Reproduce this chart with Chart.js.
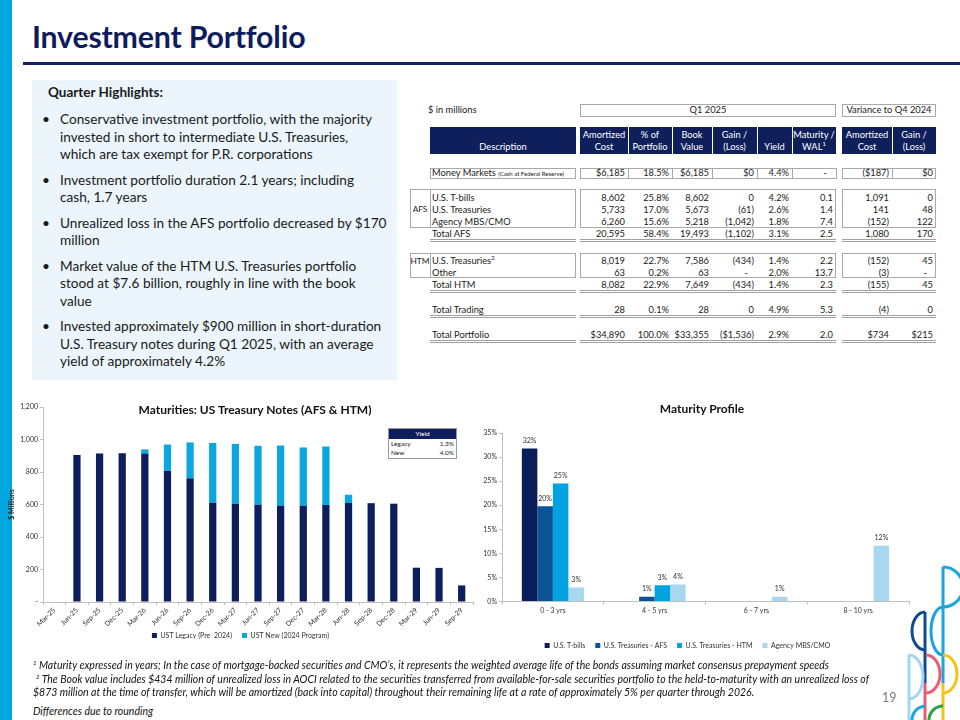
<!DOCTYPE html>
<html lang="en">
<head>
<meta charset="UTF-8">
<title>Investment Portfolio</title>
<script src="https://cdn.jsdelivr.net/npm/chart.js"></script>
<style>
    html, body { margin: 0; padding: 0; }
    body { width: 960px; height: 720px; overflow: hidden; background: #fff; font-family: 'Lato', sans-serif; color: #1a1a1a; position: relative; }
    .abs { position: absolute; }
    .strip { left: 0; top: 0; width: 12px; height: 720px; background: #00a6e0; }
    .title { left: 32px; top: 18px; font-size: 30.3px; font-weight: 700; color: #0f1c5c; white-space: nowrap; letter-spacing: -0.2px; }
    .rule { left: 23px; top: 62px; width: 937px; height: 3px; background: #14235f; }
    .highlights { left: 32px; top: 80px; width: 365px; height: 300px; background: #ebf5fb; }
    .highlights h4 { position: absolute; left: 16px; top: 3px; margin: 0; font-size: 13.5px; line-height: 18px; font-weight: 700; }
    .highlights ul { position: absolute; left: 0; top: 31px; margin: 0; padding: 0; list-style: none; }
    .highlights li { position: relative; padding-left: 28px; font-size: 13.65px; line-height: 17.5px; margin-bottom: 8px; white-space: nowrap; }
    .highlights li::before { content: '\2022'; position: absolute; left: 10px; top: 0; }
    .cell { position: absolute; box-sizing: border-box; font-size: 9.3px; white-space: nowrap; }
    .bx { position: absolute; box-sizing: border-box; border: 1px solid #a9a9a9; }
    .navy { position: absolute; box-sizing: border-box; background: #0f1f5c; }
    .hd { position: absolute; box-sizing: border-box; color: #fff; font-size: 9.3px; line-height: 12px; text-align: center; }
    sup { line-height: 0; font-size: 6px; }
    .uline { position: absolute; box-sizing: border-box; height: 3px; border-top: 1px solid #a0a0a0; border-bottom: 1px solid #a0a0a0; }
    .chartbox { position: absolute; }
    .ctitle { position: absolute; font-size: 12px; font-weight: 700; color: #111; white-space: nowrap; transform: translateX(-50%); }
    .yield { left: 388px; top: 428px; width: 69px; border: 1px solid #999; background: #fff; font-size: 6.5px; box-sizing: border-box; }
    .yield div { height: 9.5px; line-height: 9.5px; padding: 0 2px; display: flex; justify-content: space-between; }
    .yield .yh { background: #0f1f5c; color: #fff; justify-content: center; }
    .note { position: absolute; left: 33px; font-size: 10.5px; line-height: 12.6px; font-style: italic; white-space: nowrap; color: #111; }
    .pg { left: 882px; top: 690px; font-size: 12.5px; color: #7a7a7a; }
</style>
</head>
<body>
<div class="abs strip"></div>
<div class="abs title">Investment Portfolio</div>
<div class="abs rule"></div>

<div class="abs highlights">
    <h4>Quarter Highlights:</h4>
    <ul>
        <li>Conservative investment portfolio, with the majority<br>invested in short to intermediate U.S. Treasuries,<br>which are tax exempt for P.R. corporations</li>
        <li>Investment portfolio duration 2.1 years; including<br>cash, 1.7 years</li>
        <li>Unrealized loss in the AFS portfolio decreased by $170<br>million</li>
        <li>Market value of the HTM U.S. Treasuries portfolio<br>stood at $7.6 billion, roughly in line with the book<br>value</li>
        <li>Invested approximately $900 million in short-duration<br>U.S. Treasury notes during Q1 2025, with an average<br>yield of approximately 4.2%</li>
    </ul>
</div>

<div id="table"></div>

<div class="chartbox" style="left:8px; top:400px; width:472px; height:249px;"><canvas id="maturityChart"></canvas></div>
<div class="ctitle" style="left:255px; top:402px;">Maturities: US Treasury Notes (AFS &amp; HTM)</div>
<div class="abs yield">
    <div class="yh">Yield</div>
    <div><span>Legacy</span><span>1.3%</span></div>
    <div><span>New</span><span>4.0%</span></div>
</div>

<div class="chartbox" style="left:466px; top:400px; width:444px; height:259px;"><canvas id="profileChart"></canvas></div>
<div class="ctitle" style="left:702px; top:401px;">Maturity Profile</div>

<div class="note" style="top:658.5px;"><sup>1</sup> Maturity expressed in years; In the case of mortgage-backed securities and CMO’s, it represents the weighted average life of the bonds assuming market consensus prepayment speeds</div>
<div class="note" style="top:672.5px; left:36px;"><sup>2</sup> The Book value includes $434 million of unrealized loss in AOCI related to the securities transferred from available-for-sale securities portfolio to the held-to-maturity with an unrealized loss of</div>
<div class="note" style="top:685.5px;">$873 million at the time of transfer, which will be amortized (back into capital) throughout their remaining life at a rate of approximately 5% per quarter through 2026.</div>
<div class="note" style="top:704.5px;">Differences due to rounding</div>
<div class="abs pg">19</div>

<svg class="abs" style="left:900px; top:560px;" width="60" height="160" viewBox="900 560 60 160" fill="none" stroke-width="3">
    <path d="M943,567 V683 M943,567 A20,20 0 0 1 943,607 M943,607 A12,24 0 0 0 943,655" stroke="#1ba5dd"/>
    <path d="M925,612 V683 M925,612 A13,19 0 0 0 925,650" stroke="#0d4d8f"/>
    <path d="M925,683 V720 M926,655 A14,19 0 0 1 926,693" stroke="#ee5b70"/>
    <path d="M943,683 V720 M943,655 A14,19 0 0 1 943,693" stroke="#f5c21b"/>
    <path d="M909,655 V720 M909,655 A14,22 0 0 1 909,699" stroke="#a3d5f2"/>
    <path d="M912,720 A14,14 0 0 1 925,706" stroke="#1ba5dd"/>
    <path d="M929,720 A14,14 0 0 1 943,706" stroke="#2ba44b"/>
</svg>

<script>
    // Maturities: US Treasury Notes (AFS & HTM), $ millions
    const maturityLabels = ['Mar-25', 'Jun-25', 'Sep-25', 'Dec-25', 'Mar-26', 'Jun-26', 'Sep-26', 'Dec-26', 'Mar-27', 'Jun-27',
        'Sep-27', 'Dec-27', 'Mar-28', 'Jun-28', 'Sep-28', 'Dec-28', 'Mar-29', 'Jun-29', 'Sep-29'];
    const ustLegacy = [null, 904, 914, 916, 914, 808, 761, 611, 605, 599, 593, 593, 597, 609, 608, 605, 211, 210, 102];
    const ustNew = [null, null, null, null, 25, 161, 221, 368, 368, 362, 370, 358, 360, 51, null, null, null, null, null];
    const maturityTicks = [0, 200, 400, 600, 800, 1000, 1200];

    // Maturity Profile, % of portfolio
    const profileBuckets = ['0 - 3 yrs', '4 - 5 yrs', '6 - 7 yrs', '8 - 10 yrs'];
    const profileTbills = [31.8, null, null, null];
    const profileAfs = [19.8, 1.0, null, null];
    const profileHtm = [24.5, 3.4, null, null];
    const profileMbs = [2.9, 3.55, 1.0, 11.6];
    const profileTicks = [0, 5, 10, 15, 20, 25, 30, 35];

    // Table
    const q1Cols = [580, 628, 672, 712, 757, 792, 836];
    const varCols = [842, 892, 936];
    const tableRows = [
        { top: 168, h: 10.5, desc: 'Money Markets <span style="font-size:6px">(Cash at Federal Reserve)</span>', q1: ['$6,185', '18.5%', '$6,185', '$0', '4.4%', '-'], vr: ['($187)', '$0'] },
        { top: 192, h: 12, desc: 'U.S. T-bills', q1: ['8,602', '25.8%', '8,602', '0', '4.2%', '0.1'], vr: ['1,091', '0'] },
        { top: 204, h: 12, desc: 'U.S. Treasuries', q1: ['5,733', '17.0%', '5,673', '(61)', '2.6%', '1.4'], vr: ['141', '48'] },
        { top: 216, h: 12, desc: 'Agency MBS/CMO', q1: ['6,260', '15.6%', '5,218', '(1,042)', '1.8%', '7.4'], vr: ['(152)', '122'] },
        { top: 228, h: 12, desc: 'Total AFS', q1: ['20,595', '58.4%', '19,493', '(1,102)', '3.1%', '2.5'], vr: ['1,080', '170'], total: true },
        { top: 255, h: 12, desc: 'U.S. Treasuries<sup>2</sup>', q1: ['8,019', '22.7%', '7,586', '(434)', '1.4%', '2.2'], vr: ['(152)', '45'] },
        { top: 267, h: 12, desc: 'Other', q1: ['63', '0.2%', '63', '-', '2.0%', '13.7'], vr: ['(3)', '-'] },
        { top: 279, h: 12, desc: 'Total HTM', q1: ['8,082', '22.9%', '7,649', '(434)', '1.4%', '2.3'], vr: ['(155)', '45'], total: true },
        { top: 304, h: 12, desc: 'Total Trading', q1: ['28', '0.1%', '28', '0', '4.9%', '5.3'], vr: ['(4)', '0'], total: true },
        { top: 329, h: 12, desc: 'Total Portfolio', q1: ['$34,890', '100.0%', '$33,355', '($1,536)', '2.9%', '2.0'], vr: ['$734', '$215'], total: true }
    ];
    const q1Heads = ['Amortized<br>Cost', '% of<br>Portfolio', 'Book<br>Value', 'Gain /<br>(Loss)', 'Yield', 'Maturity /<br>WAL<sup>1</sup>'];
    const varHeads = ['Amortized<br>Cost', 'Gain /<br>(Loss)'];

    const table = document.getElementById('table');
    function el(cls, x1, y1, x2, y2, html, style) {
        const d = document.createElement('div');
        d.className = cls;
        d.style.left = x1 + 'px';
        d.style.top = y1 + 'px';
        d.style.width = (x2 - x1) + 'px';
        if (y2 !== null) d.style.height = (y2 - y1) + 'px';
        if (html) d.innerHTML = html;
        if (style) d.style.cssText += style;
        table.appendChild(d);
        return d;
    }

    el('cell', 428, 104, 560, 116, '$ in millions', 'line-height:12px;');
    el('bx', q1Cols[0], 104, q1Cols[6], 116.5, 'Q1 2025', 'font-size:9.3px;text-align:center;line-height:10.5px;');
    el('bx', varCols[0], 104, varCols[2], 116.5, 'Variance to Q4 2024', 'font-size:9.3px;text-align:center;line-height:10.5px;');

    // header band
    el('navy', 430, 127, 576, 154);
    el('hd', 430, 141, 576, 154, 'Description');
    q1Heads.forEach((h, i) => {
        el('navy', q1Cols[i], 127, q1Cols[i + 1], 154, '', i > 0 ? 'border-left:1px solid #fff;' : '');
        el('hd', q1Cols[i], h.includes('<br>') ? 129 : 141, q1Cols[i + 1], 154, h);
    });
    varHeads.forEach((h, i) => {
        el('navy', varCols[i], 127, varCols[i + 1], 154, '', i > 0 ? 'border-left:1px solid #fff;' : '');
        el('hd', varCols[i], 129, varCols[i + 1], 154, h);
    });

    // boxes
    el('bx', 430, 167.5, 576, 178.5);
    for (let i = 0; i < 6; i++) el('bx', q1Cols[i], 167.5, q1Cols[i + 1] + 1, 178.5);
    for (let i = 0; i < 2; i++) el('bx', varCols[i], 167.5, varCols[i + 1] + (i === 0 ? 1 : 0), 178.5);
    [[189, 228, 'AFS', 203], [253, 278, 'HTM', 255]].forEach(b => {
        el('bx', 410, b[0], 431, b[1]);
        el('cell', 410, b[3], 430, b[3] + 12, b[2], 'text-align:center;line-height:12px;font-size:8.3px;');
        el('bx', 430, b[0], 576, b[1]);
        el('bx', q1Cols[0], b[0], q1Cols[6], b[1]);
        el('bx', varCols[0], b[0], varCols[2], b[1]);
    });

    tableRows.forEach(r => {
        const lh = 'line-height:' + r.h + 'px;';
        el('cell', 432, r.top, 576, r.top + r.h, r.desc, lh);
        r.q1.forEach((v, i) => el('cell', q1Cols[i], r.top, q1Cols[i + 1], r.top + r.h, v,
            lh + 'text-align:right;padding-right:' + (v === '-' ? 9 : 3) + 'px;'));
        r.vr.forEach((v, i) => el('cell', varCols[i], r.top, varCols[i + 1], r.top + r.h, v,
            lh + 'text-align:right;padding-right:' + (v === '-' ? 9 : 3) + 'px;'));
        if (r.total) {
            const y = r.top + r.h - 1;
            el('uline', 430, y, 576, null);
            el('uline', q1Cols[0], y, q1Cols[6], null);
            el('uline', varCols[0], y, varCols[2], null);
        }
    });

    Chart.defaults.font.family = 'Lato';
    Chart.defaults.color = '#333';

    // Maturities chart
    new Chart(document.getElementById('maturityChart').getContext('2d'), {
        type: 'bar',
        data: {
            labels: maturityLabels,
            datasets: [
                { label: 'UST Legacy (Pre  2024)', data: ustLegacy, backgroundColor: '#0c1e5b', barPercentage: 0.32, categoryPercentage: 1 },
                { label: 'UST New (2024 Program)', data: ustNew, backgroundColor: '#0aa6df', barPercentage: 0.32, categoryPercentage: 1 }
            ]
        },
        options: {
            responsive: true,
            maintainAspectRatio: false,
            animation: false,
            layout: { padding: { top: 7, right: 7, left: 0, bottom: 0 } },
            plugins: {
                legend: { position: 'bottom', labels: { boxWidth: 5, boxHeight: 5, font: { size: 7 }, padding: 10 } },
                tooltip: { enabled: false }
            },
            scales: {
                x: {
                    stacked: true,
                    grid: { drawOnChartArea: false, tickLength: 3, color: '#c0c0c0' },
                    border: { color: '#c0c0c0' },
                    ticks: { font: { size: 7 }, maxRotation: 45, minRotation: 45, autoSkip: false, padding: 1 },
                    afterFit(s) {
                        s.height = 20;
                        s._computeLabelArea = () => undefined; // let rotated labels run past the axis box
                    }
                },
                y: {
                    stacked: true,
                    min: 0,
                    max: 1200,
                    afterBuildTicks(s) { s.ticks = maturityTicks.map(v => ({ value: v })); },
                    ticks: { font: { size: 7 }, padding: 2, callback: v => v === 0 ? '-' : v.toLocaleString('en-US') },
                    grid: { drawOnChartArea: false, tickLength: 3, color: '#c0c0c0' },
                    border: { color: '#c0c0c0' },
                    title: { display: true, text: '$ Millions', font: { size: 7, weight: 'bold' }, color: '#222', padding: 0 },
                    afterFit(s) { s.width = 35; }
                }
            }
        }
    });

    // value labels above bars
    const barLabels = {
        id: 'barLabels',
        afterDatasetsDraw(chart) {
            const ctx = chart.ctx;
            ctx.save();
            ctx.font = '7px Lato';
            ctx.fillStyle = '#333';
            ctx.textAlign = 'center';
            ctx.textBaseline = 'bottom';
            chart.data.datasets.forEach((ds, i) => {
                chart.getDatasetMeta(i).data.forEach((bar, j) => {
                    const v = ds.data[j];
                    if (v === null || v === undefined) return;
                    ctx.fillText(Math.round(v) + '%', bar.x, bar.y - 4);
                });
            });
            ctx.restore();
        }
    };

    // Maturity profile chart
    new Chart(document.getElementById('profileChart').getContext('2d'), {
        type: 'bar',
        data: {
            labels: profileBuckets,
            datasets: [
                { label: 'U.S. T-bills', data: profileTbills, backgroundColor: '#0b1d58' },
                { label: 'U.S. Treasuries - AFS', data: profileAfs, backgroundColor: '#0a5495' },
                { label: 'U.S. Treasuries - HTM', data: profileHtm, backgroundColor: '#00a3df' },
                { label: 'Agency MBS/CMO', data: profileMbs, backgroundColor: '#a7d7f1' }
            ]
        },
        options: {
            responsive: true,
            maintainAspectRatio: false,
            animation: false,
            datasets: { bar: { categoryPercentage: 0.61, barPercentage: 1 } },
            layout: { padding: { top: 33, right: 1, left: 0, bottom: 0 } },
            plugins: {
                legend: { position: 'bottom', labels: { boxWidth: 5, boxHeight: 5, font: { size: 7 }, padding: 10 } },
                tooltip: { enabled: false }
            },
            scales: {
                x: {
                    grid: { drawOnChartArea: false, tickLength: 3, color: '#c0c0c0' },
                    border: { color: '#c0c0c0' },
                    ticks: { font: { size: 7 }, padding: 2 },
                    afterFit(s) { s.height = 30.5; }
                },
                y: {
                    min: 0,
                    max: 35,
                    afterBuildTicks(s) { s.ticks = profileTicks.map(v => ({ value: v })); },
                    ticks: { font: { size: 7 }, padding: 2, callback: v => v + '%' },
                    grid: { drawOnChartArea: false, tickLength: 3, color: '#c0c0c0' },
                    border: { color: '#c0c0c0' },
                    afterFit(s) { s.width = 36; }
                }
            }
        },
        plugins: [barLabels]
    });
</script>
</body>
</html>
